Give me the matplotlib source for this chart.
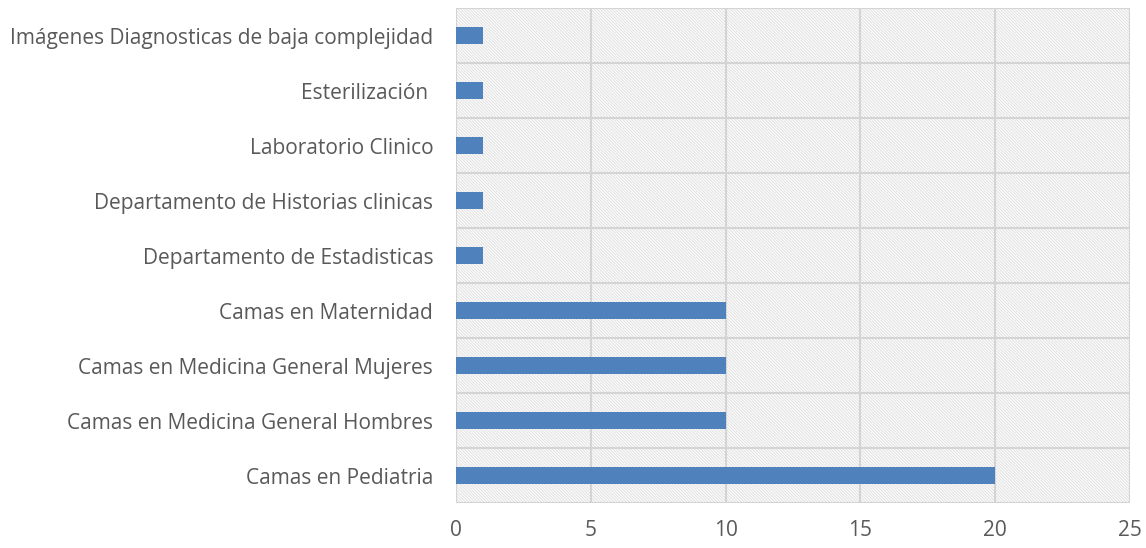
import matplotlib
matplotlib.use("Agg")
import matplotlib.pyplot as plt
from matplotlib.patches import Rectangle

categories = [
    "Camas en Pediatria",
    "Camas en Medicina General Hombres",
    "Camas en Medicina General Mujeres",
    "Camas en Maternidad",
    "Departamento de Estadisticas",
    "Departamento de Historias clinicas",
    "Laboratorio Clinico",
    "Esterilización ",
    "Imágenes Diagnosticas de baja complejidad",
]
values = [20, 10, 10, 10, 1, 1, 1, 1, 1]
xticks = [0, 5, 10, 15, 20, 25]

plt.rcParams['font.family'] = ['Open Sans', 'DejaVu Sans']
plt.rcParams['hatch.color'] = '#e2e2e2'
plt.rcParams['hatch.linewidth'] = 0.8

fig = plt.figure(figsize=(11.46, 5.48), dpi=100)
ax = fig.add_axes([0.398, 0.082, 0.588, 0.903])

ypos = list(range(len(categories)))
ax.set_xlim(0, 25)
ax.set_ylim(-0.5, len(categories) - 0.5)

# hatched plot-area background
bg = Rectangle((0, 0), 1, 1, transform=ax.transAxes, facecolor='white',
               edgecolor='#e2e2e2', hatch='\\' * 11, linewidth=0, zorder=0)
ax.add_patch(bg)

grid_c = '#d4d4d4'
for x in xticks:
    ax.axvline(x, color=grid_c, linewidth=1.5, zorder=1)
for i in range(len(categories) + 1):
    ax.axhline(i - 0.5, color=grid_c, linewidth=1.5, zorder=1)

ax.barh(ypos, values, height=0.3, color='#4f81bd', zorder=3)

ax.set_yticks(ypos)
ax.set_yticklabels(categories)
ax.set_xticks(xticks)
ax.tick_params(axis='both', length=0, labelsize=15, colors='#595959')
ax.tick_params(axis='y', pad=16.5)
ax.tick_params(axis='x', pad=12)
for s in ax.spines.values():
    s.set_visible(False)

fig.savefig("out.png", dpi=100)
